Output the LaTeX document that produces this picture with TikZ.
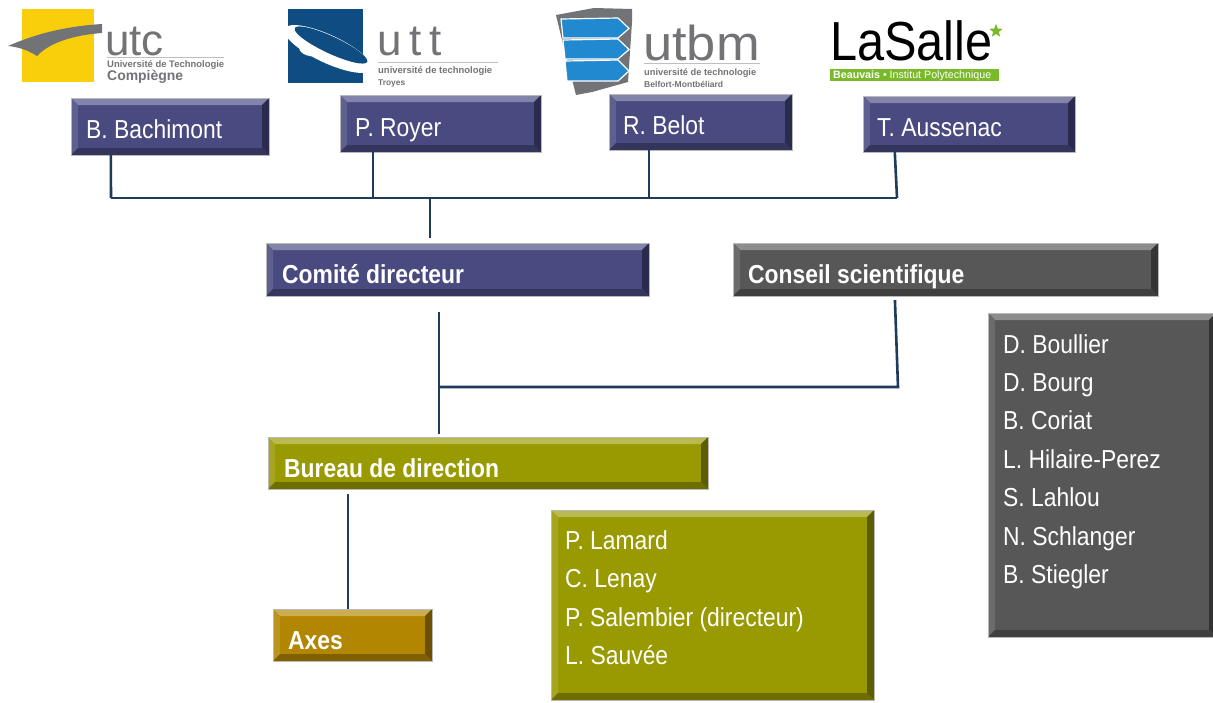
\documentclass[tikz,border=0pt]{standalone}
\usepackage{fontspec}
\usepackage{graphicx}
\setmainfont[FakeStretch=0.88]{Liberation Sans}
\newfontfamily\logofont{Liberation Sans}
\usetikzlibrary{fit,shapes.geometric}
\definecolor{boxblue}{HTML}{484A80}
\definecolor{boxgray}{HTML}{575757}
\definecolor{boxolive}{HTML}{999900}
\definecolor{boxaxes}{HTML}{B28600}
\definecolor{conncol}{HTML}{1F3B5C}
\definecolor{utcyellow}{HTML}{F8CF0A}
\definecolor{logogray}{HTML}{727376}
\definecolor{uttblue}{HTML}{0F4C81}
\definecolor{utbmblue}{HTML}{2189CF}
\definecolor{lsgreen}{HTML}{7AB929}
\tikzset{
  conn/.style={draw=conncol, line width=2.6pt},
  lbl/.style={anchor=base west, inner sep=0, text=white, font=\fontsize{26}{30}\selectfont},
  blbl/.style={anchor=base west, inner sep=0, text=white, font=\fontsize{26}{30}\selectfont\bfseries},
  boxfit/.style={inner sep=0, draw=none},
  logotxt/.style={anchor=base west, inner sep=0, text=logogray, font=\logofont},
  logobig/.style={logotxt, text depth=0pt},
}
\newcommand\bevbox[6]{%
  \fill[#6] (#2,#3) rectangle (#4,#5);
  \fill[#6!68!white] (#2,#3) -- (#4,#3) -- (#4-7,#3+7) -- (#2+7,#3+7) -- cycle;
  \fill[#6!88!white] (#2,#3) -- (#2+7,#3+7) -- (#2+7,#5-7) -- (#2,#5) -- cycle;
  \fill[#6!60!black] (#4,#3) -- (#4,#5) -- (#4-7,#5-7) -- (#4-7,#3+7) -- cycle;
  \fill[#6!72!black] (#2,#5) -- (#4,#5) -- (#4-7,#5-7) -- (#2+7,#5-7) -- cycle;
  \draw[gray!55, line width=0.8pt] (#2,#3) rectangle (#4,#5);
  \node[boxfit, fit={(#2,#3)(#4,#5)}] (#1) {};
}
\begin{document}
\begin{tikzpicture}[x=1pt,y=-1pt]
\useasboundingbox (0,0) rectangle (1213,702);
\fill[white] (0,0) rectangle (1213,702);

% ---------- logos ----------
% UTC
\fill[utcyellow] (22,9) rectangle (94,82);
\fill[logogray] (8,46) .. controls (40,32) and (70,26) .. (102,24) -- (102,33)
  .. controls (75,35) and (50,42) .. (37,56) .. controls (28,50) and (18,47) .. (8,46) -- cycle;
\node[logobig, font=\logofont\fontsize{44}{44}\selectfont] (utcname) at (105,55) {utc};
\draw[gray!50, line width=1pt] (107,57.5) -- (224,57.5);
\node[logotxt] (utcl1) at (107,67) {\resizebox{117pt}{!}{\bfseries Université de Technologie}};
\node[logotxt] (utcl2) at (107,80) {\resizebox{76pt}{!}{\bfseries Compiègne}};
% UTT
\fill[uttblue] (288,9) rectangle (363,83);
\fill[white, rotate around={-25:(328,49)}] (328,49) ellipse [x radius=48, y radius=14];
\fill[uttblue, rotate around={-25:(331,45)}] (331,45) ellipse [x radius=40, y radius=8.5];
\fill[white, rotate around={-20:(308,51)}] (308,51) ellipse [x radius=9, y radius=4.5];
\node[logobig, font=\logofont\fontsize{44}{44}\selectfont] (uttname) at (377,55) {u\kern8pt t\kern8pt t};
\draw[gray!50, line width=1pt] (378,62) -- (498,62);
\node[logotxt] (uttl1) at (378,73) {\resizebox{114pt}{!}{\bfseries université de technologie}};
\node[logotxt] (uttl2) at (378,85) {\resizebox{27pt}{!}{\bfseries Troyes}};
% UTBM
\fill[logogray] (556,15) -- (594,8) -- (632,9) -- (632,22) -- (628,82) -- (592,92) -- (576,95) -- (562,40) -- cycle;
\foreach \t/\b/\s in {19/38/0, 40/59/2, 61/81/4}{
  \fill[utbmblue, draw=white, line width=1.2pt] (561+\s,\t) -- (618,\t-1) -- (629,{(\t+\b)/2}) -- (618,\b) -- (563+\s,\b) -- cycle;
}
\node[logobig, font=\logofont\fontsize{49}{49}\selectfont] (utbmname) at (643,60.5) {\scalebox{1.07}[1]{utbm}};
\draw[gray!50, line width=1pt] (644,63.5) -- (760,63.5);
\node[logotxt] (utbml1) at (644,75) {\resizebox{112pt}{!}{\bfseries université de technologie}};
\node[logotxt] (utbml2) at (644,87) {\resizebox{79pt}{!}{\bfseries Belfort-Montbéliard}};
% LaSalle
\node[logobig, text=black, font=\logofont\fontsize{55}{55}\selectfont] (lsname) at (830,60.5) {\scalebox{0.885}[1]{LaSalle}};
\node[star, star points=5, star point ratio=2.3, fill=lsgreen, minimum size=14pt, inner sep=0] (lsstar) at (996,31) {};
\fill[lsgreen] (830,69) rectangle (999,81);
\node[logotxt, text=white] (lsbar) at (833,78.5) {\resizebox{158pt}{!}{\textbf{Beauvais} • Institut Polytechnique}};

% ---------- boxes ----------
\bevbox{bach}{71}{98}{269}{155}{boxblue}
\bevbox{royer}{340}{95}{541}{152}{boxblue}
\bevbox{belot}{609}{94}{792}{150}{boxblue}
\bevbox{aus}{863}{96}{1075}{152}{boxblue}
\bevbox{comite}{266}{243}{649}{296}{boxblue}
\bevbox{conseil}{733}{243}{1158}{296}{boxgray}
\bevbox{cmembers}{988}{313}{1216}{637}{boxgray}
\bevbox{bureau}{268}{437}{708}{489}{boxolive}
\bevbox{bmembers}{551}{510}{874}{700}{boxolive}
\bevbox{axes}{273}{609}{432}{661}{boxaxes}

\node[lbl] (bachT) at (86,138) {B. Bachimont};
\node[lbl] (royerT) at (355,136) {P. Royer};
\node[lbl] (belotT) at (623,134) {R. Belot};
\node[lbl] (ausT) at (877,136) {T. Aussenac};
\node[blbl] (comiteT) at (282,283) {Comité directeur};
\node[blbl] (conseilT) at (748,283) {Conseil scientifique};
\node[blbl] (bureauT) at (284,477) {Bureau de direction};
\node[blbl] (axesT) at (288,649) {Axes};

\node[lbl] (bm1) at (565,549) {P. Lamard};
\node[lbl] (bm2) at (565,587) {C. Lenay};
\node[lbl] (bm3) at (565,626) {P. Salembier (directeur)};
\node[lbl] (bm4) at (565,664) {L. Sauvée};

\node[lbl] (cm1) at (1003,353) {D. Boullier};
\node[lbl] (cm2) at (1003,391) {D. Bourg};
\node[lbl] (cm3) at (1003,429) {B. Coriat};
\node[lbl] (cm4) at (1003,468) {L. Hilaire-Perez};
\node[lbl] (cm5) at (1003,506) {S. Lahlou};
\node[lbl] (cm6) at (1003,545) {N. Schlanger};
\node[lbl] (cm7) at (1003,583) {B. Stiegler};

% ---------- connectors ----------
\coordinate (busL) at (111,198);
\coordinate (busM) at (430,198);
\coordinate (busR) at (897,198);
\draw[conn] (busL) -- (busR);
\draw[conn] ([xshift=40pt]bach.south west) -- (busL);
\draw[conn] ([xshift=33pt]royer.south west) |- (busM);
\draw[conn] ([xshift=40pt]belot.south west) |- (busM);
\draw[conn] ([xshift=32pt]aus.south west) -- (busR);
\draw[conn, shorten >=5pt] (busM) -- (comite.north -| busM);

\coordinate (jl) at (439,387);
\coordinate (jr) at (898,387);
\draw[conn, shorten <=16pt, shorten >=3pt] (comite.south -| jl) -- (bureau.north -| jl);
\draw[conn, shorten <=4pt] ([xshift=162pt]conseil.south west) -- (jr) -- (jl);

\coordinate (axtop) at ([xshift=75pt]axes.north west);
\draw[conn, shorten <=5pt] (axtop |- bureau.south) -- (axtop);
\end{tikzpicture}
\end{document}
